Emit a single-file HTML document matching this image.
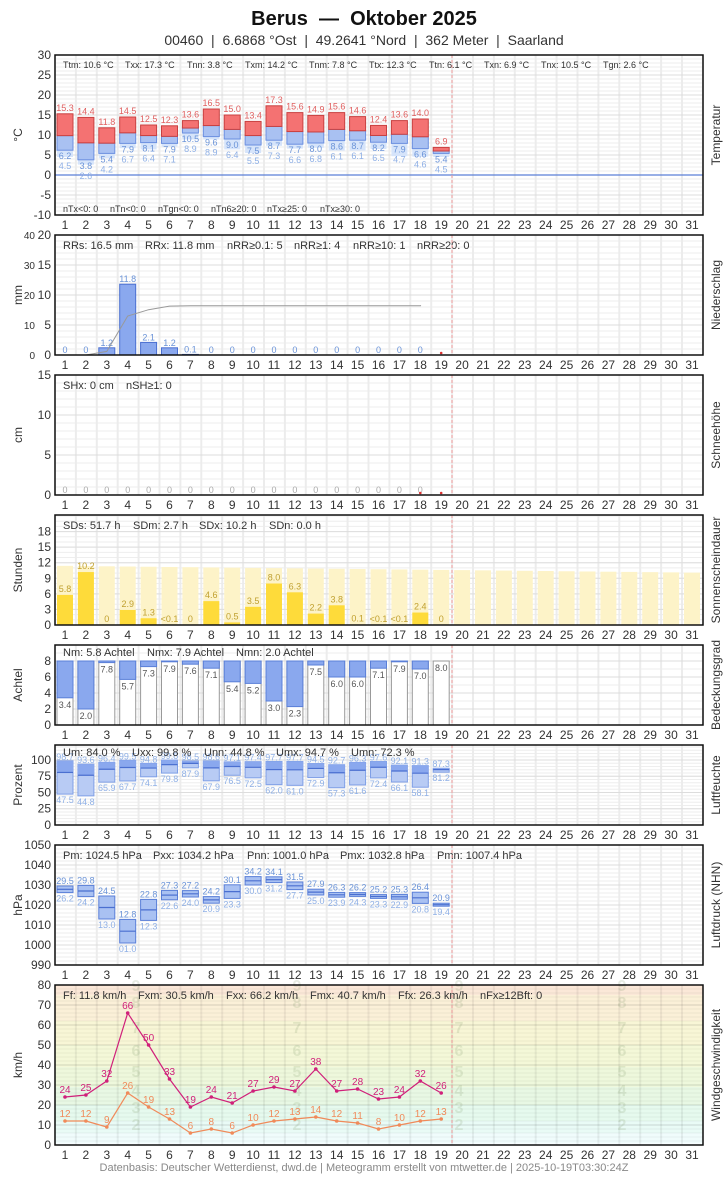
<!DOCTYPE html>
<html><head><meta charset="utf-8"><style>
body{margin:0;background:#fff;width:728px;height:1175px;overflow:hidden;font-family:"Liberation Sans",sans-serif}
text{white-space:pre}
</style></head><body>
<svg id="s" width="728" height="1175" xmlns="http://www.w3.org/2000/svg" font-family="Liberation Sans, sans-serif"></svg>
<script>
const S=document.getElementById('s');let h='';
const X0=55,X1=703,DW=20.9;const xc=d=>65+(d-1)*DW;
function t(x,y,s,o){o=o||{};h+=`<text x="${x}" y="${y}" font-size="${o.fs||11}" fill="${o.c||'#333'}" text-anchor="${o.a||'middle'}"${o.w?' font-weight="bold"':''}${o.tr?` transform="${o.tr}"`:''}>${s}</text>`;}
function r(x,y,w,hh,f,st){h+=`<rect x="${x}" y="${y}" width="${w}" height="${hh}" fill="${f}"${st?` stroke="${st}" stroke-width="1"`:''}/>`;}
function l(x1,y1,x2,y2,c,w,da){h+=`<line x1="${x1}" y1="${y1}" x2="${x2}" y2="${y2}" stroke="${c}" stroke-width="${w||1}"${da?` stroke-dasharray="${da}"`:''}/>`;}
t(364,25,'Berus  —  Oktober 2025',{fs:20,w:1,c:'#111'});
t(364,45,'00460  |  6.6868 °Ost  |  49.2641 °Nord  |  362 Meter  |  Saarland',{fs:14,c:'#333'});
function panel(y0,y1,vmin,vmax,ticks,lab,rlab,sub){
 const Y=v=>y1-(v-vmin)/(vmax-vmin)*(y1-y0);
 for(let v=vmin;v<=vmax;v+=sub) l(X0,Y(v),X1,Y(v),'#eee',1);
 for(let d=0;d<=31;d++){l(X0+d*DW,y0,X0+d*DW,y1,'#ececec',2);}
 ticks.forEach(v=>{l(X0,Y(v),X1,Y(v),'#ddd',1);t(51,Y(v)+4,v,{a:'end',fs:12});});
 t(22,(y0+y1)/2,lab,{fs:12,tr:`rotate(-90 22 ${(y0+y1)/2})`});
 t(720,(y0+y1)/2,rlab,{fs:12,tr:`rotate(-90 720 ${(y0+y1)/2})`});
 for(let d=1;d<=31;d++)t(xc(d),y1+14,d,{fs:12});
 return Y;
}
function frame(y0,y1){l(452,y0,452,y1,'#f4a0a0',1,'3,2');h+=`<rect x="${X0}" y="${y0}" width="${X1-X0}" height="${y1-y0}" fill="none" stroke="#111" stroke-width="1.5"/>`;}
let Y=panel(55,215,-10,30,[-10,-5,0,5,10,15,20,25,30],'°C','Temperatur',1);
l(X0,Y(0),X1,Y(0),'#5b7fd6',1.2);
const tx=[15.3,14.4,11.8,14.5,12.5,12.3,13.6,16.5,15.0,13.4,17.3,15.6,14.9,15.6,14.6,12.4,13.6,14.0,6.9],
tn=[6.2,3.8,5.4,7.9,8.1,7.9,10.5,9.6,9.0,7.5,8.7,7.7,8.0,8.6,8.7,8.2,7.9,6.6,5.4],
tg=[4.5,2.6,4.2,6.7,6.4,7.1,8.9,8.9,6.4,5.5,7.3,6.6,6.8,6.1,6.1,6.5,4.7,4.6,4.5];
tx.forEach((mx,i)=>{const x=xc(i+1)-8,mn=tn[i],g=tg[i],m=mn+(mx-mn)*0.4;
 r(x,Y(mn),16,Y(g)-Y(mn),'#d6e4fa');
 r(x,Y(m),16,Y(mn)-Y(m),'#a9c1f2','#6b8fe0');
 r(x,Y(mx),16,Y(m)-Y(mx),'#f47272','#c84040');
 t(xc(i+1),Y(mx)-3,mx.toFixed(1),{fs:9,c:'#e06060'});
 t(xc(i+1),Y(mn)+9,mn.toFixed(1),{fs:9,c:'#6a93d8'});
 t(xc(i+1),Y(mn)+19,g.toFixed(1),{fs:9,c:'#8fb0e6'});
});
[['Ttm: 10.6 °C',63],['Txx: 17.3 °C',125],['Tnn: 3.8 °C',187],['Txm: 14.2 °C',245],['Tnm: 7.8 °C',309],['Ttx: 12.3 °C',369],['Ttn: 6.1 °C',429],['Txn: 6.9 °C',484],['Tnx: 10.5 °C',541],['Tgn: 2.6 °C',603]].forEach(a=>t(a[1],68,a[0],{fs:9,a:'start'}));
[['nTx<0: 0',63],['nTn<0: 0',110],['nTgn<0: 0',158],['nTn6≥20: 0',211],['nTx≥25: 0',267],['nTx≥30: 0',320]].forEach(a=>t(a[1],212,a[0],{fs:9,a:'start'}));
frame(55,215);
Y=panel(235,355,0,20,[0,5,10,15,20],'mm','Niederschlag',1);
[0,10,20,30,40].forEach((v,i)=>t(35,355-i*30+4,v,{fs:10,a:'end'}));
const pr=[0,0,1.2,11.8,2.1,1.2,0.1,0,0,0,0,0,0,0,0,0,0,0];
let cum=0,pts=[];pr.forEach((p,i)=>{cum+=p;pts.push([xc(i+1)+(i==0?-10:0),355-cum*3]);});
pts.push([421,355-16.5*3]);
pr.forEach((p,i)=>{if(p>0)r(xc(i+1)-8,Y(p),16,Y(0)-Y(p),'#8aa8ee','#4a6fd0');t(xc(i+1),Y(p)-2,p==0?'0':p.toFixed(1),{fs:9,c:'#6a93d8'});});
h+=`<polyline points="${pts.map(p=>p.join(',')).join(' ')}" fill="none" stroke="#999" stroke-width="1"/>`;
h+=`<circle cx="${xc(19)}" cy="353" r="1.3" fill="#d33"/>`;
[['RRs: 16.5 mm',63],['RRx: 11.8 mm',145],['nRR≥0.1: 5',227],['nRR≥1: 4',294],['nRR≥10: 1',353],['nRR≥20: 0',417]].forEach(a=>t(a[1],249,a[0],{fs:11,a:'start'}));
frame(235,355);
Y=panel(375,495,0,15,[0,5,10,15],'cm','Schneehöhe',1);
for(let d=1;d<=18;d++)t(xc(d),493,'0',{fs:9,c:'#aaa'});
h+=`<circle cx="${xc(18)}" cy="493" r="1.3" fill="#d33"/><circle cx="${xc(19)}" cy="493" r="1.3" fill="#d33"/>`;
t(63,389,'SHx: 0 cm',{fs:11,a:'start'});t(126,389,'nSH≥1: 0',{fs:11,a:'start'});
frame(375,495);
Y=panel(515,625,0,21.2,[0,3,6,9,12,15,18],'Stunden','Sonnenscheindauer',1);
const sd=[5.8,10.2,0,2.9,1.3,0.02,0,4.6,0.5,3.5,8.0,6.3,2.2,3.8,0.1,0.02,0.02,2.4,0],sl=['5.8','10.2','0','2.9','1.3','&lt;0.1','0','4.6','0.5','3.5','8.0','6.3','2.2','3.8','0.1','&lt;0.1','&lt;0.1','2.4','0'];
for(let d=1;d<=31;d++){const p=11.4-(d-1)*1.3/30;r(xc(d)-8,Y(p),16,Y(0)-Y(p),'#fdf3c8');}
sd.forEach((s,i)=>{if(s>0.05)r(xc(i+1)-8,Y(s),16,Y(0)-Y(s),'#fedb3a');t(xc(i+1),Y(s)-3,sl[i],{fs:9,c:'#c0a030'});});
[['SDs: 51.7 h',63],['SDm: 2.7 h',133],['SDx: 10.2 h',199],['SDn: 0.0 h',269]].forEach(a=>t(a[1],529,a[0],{fs:11,a:'start'}));
frame(515,625);
Y=panel(645,725,0,10,[0,2,4,6,8],'Achtel','Bedeckungsgrad',1);
const cl=[3.4,2.0,7.8,5.7,7.3,7.9,7.6,7.1,5.4,5.2,3.0,2.3,7.5,6.0,6.0,7.1,7.9,7.0,8.0];
cl.forEach((c,i)=>{const x=xc(i+1)-8;r(x,Y(8),16,Y(0)-Y(8),'#fff','#999');r(x,Y(8),16,Y(c)-Y(8),'#8aa8ee','#5a7fd8');t(xc(i+1),Y(c)+10,c.toFixed(1),{fs:9,c:'#555'});});
[['Nm: 5.8 Achtel',63],['Nmx: 7.9 Achtel',147],['Nmn: 2.0 Achtel',236]].forEach(a=>t(a[1],656,a[0],{fs:11,a:'start'}));
frame(645,725);
Y=panel(745,825,0,123,[0,25,50,75,100],'Prozent','Luftfeuchte',5);
const ux=[98.7,93.6,96.4,99.5,94.8,99.8,98.5,98.6,97.1,97.4,97.7,97.7,94.5,92.7,96.3,97.6,92.1,91.3,87.3],
un=[47.5,44.8,65.9,67.7,74.1,79.8,87.9,67.9,76.5,72.5,62.0,61.0,72.9,57.3,61.6,72.4,66.1,58.1,81.2];
ux.forEach((mx,i)=>{const mn=un[i],m=mn+(mx-mn)*0.65,x=xc(i+1)-8;
 r(x,Y(mx),16,Y(mn)-Y(mx),'#b8cbf4','#7f9fe6');r(x,Y(mx),16,Y(m)-Y(mx),'#8aa8ee');l(x,Y(m),x+16,Y(m),'#4a6fd0',1.2);
 t(xc(i+1),Y(mx)-1,mx.toFixed(1),{fs:9,c:'#8fb0e6'});t(xc(i+1),Y(mn)+9,mn.toFixed(1),{fs:9,c:'#8fb0e6'});});
[['Um: 84.0 %',63],['Uxx: 99.8 %',132],['Unn: 44.8 %',204],['Umx: 94.7 %',276],['Umn: 72.3 %',351]].forEach(a=>t(a[1],756,a[0],{fs:11,a:'start'}));
frame(745,825);
Y=panel(845,965,990,1050,[990,1000,1010,1020,1030,1040,1050],'hPa','Luftdruck (NHN)',2);
const px=[29.5,29.8,24.5,12.8,22.8,27.3,27.2,24.2,30.1,34.2,34.1,31.5,27.9,26.3,26.2,25.2,25.3,26.4,20.9],
pn=[26.2,24.2,13.0,1.0,12.3,22.6,24.0,20.9,23.3,30.0,31.2,27.7,25.0,23.9,24.3,23.3,22.9,20.8,19.4];
px.forEach((a,i)=>{const b=pn[i],x=xc(i+1)-8,m=(a+b)/2;
 r(x,Y(1000+a),16,Y(1000+b)-Y(1000+a),'#a9c1f2','#5a7fd8');l(x,Y(1000+m),x+16,Y(1000+m),'#4a6fd0',1.2);
 t(xc(i+1),Y(1000+a)-2,a.toFixed(1),{fs:9,c:'#6a93d8'});t(xc(i+1),Y(1000+b)+9,(b<10?'0':'')+b.toFixed(1),{fs:9,c:'#8fb0e6'});});
[['Pm: 1024.5 hPa',63],['Pxx: 1034.2 hPa',153],['Pnn: 1001.0 hPa',247],['Pmx: 1032.8 hPa',340],['Pmn: 1007.4 hPa',437]].forEach(a=>t(a[1],859,a[0],{fs:11,a:'start'}));
frame(845,965);
const WY=v=>1145-v*2;
const bands=[[0,1,'#f7fdff'],[1,6,'#f0fcfc'],[6,12,'#e9fbf6'],[12,20,'#e6faee'],[20,29,'#e8f8e4'],[29,39,'#eef8dc'],[39,50,'#f4f8d8'],[50,62,'#f8f6d6'],[62,75,'#fbf0d8'],[75,80,'#fbe8d8']];
bands.forEach(b=>r(X0,WY(b[1]),X1-X0,WY(b[0])-WY(b[1]),b[2]));
Y=WY;
for(let v=0;v<=80;v+=2)l(X0,WY(v),X1,WY(v),'rgba(0,0,0,0.05)',1);
for(let d=0;d<=31;d++)l(X0+d*DW,985,X0+d*DW,1145,'rgba(0,0,0,0.06)',2);
[0,10,20,30,40,50,60,70,80].forEach(v=>{l(X0,WY(v),X1,WY(v),'rgba(0,0,0,0.1)',1);t(51,WY(v)+4,v,{a:'end',fs:12});});
t(22,1065,'km/h',{fs:12,tr:'rotate(-90 22 1065)'});t(720,1065,'Windgeschwindigkeit',{fs:12,tr:'rotate(-90 720 1065)'});
for(let d=1;d<=31;d++)t(xc(d),1159,d,{fs:12});
const bf=[[2,1130],[3,1113],[4,1096],[5,1077],[6,1056],[7,1033],[8,1008],[9,991]];
[136,297,459,622].forEach(x=>bf.forEach(b=>t(x,b[1],b[0],{fs:16,w:1,c:'rgba(120,150,100,0.18)'})));
function ser(v,c){h+=`<polyline points="${v.map((a,i)=>xc(i+1)+','+WY(a)).join(' ')}" fill="none" stroke="${c}" stroke-width="1.2"/>`;v.forEach((a,i)=>{h+=`<circle cx="${xc(i+1)}" cy="${WY(a)}" r="1.8" fill="${c}"/>`;t(xc(i+1),WY(a)-4,a,{fs:10,c:c});});}
ser([12,12,9,26,19,13,6,8,6,10,12,13,14,12,11,8,10,12,13],'#f08a5a');
ser([24,25,32,66,50,33,19,24,21,27,29,27,38,27,28,23,24,32,26],'#d0207a');
[['Ff: 11.8 km/h',63],['Fxm: 30.5 km/h',138],['Fxx: 66.2 km/h',226],['Fmx: 40.7 km/h',310],['Ffx: 26.3 km/h',398],['nFx≥12Bft: 0',480]].forEach(a=>t(a[1],999,a[0],{fs:11,a:'start'}));
frame(985,1145);
t(364,1171,'Datenbasis: Deutscher Wetterdienst, dwd.de | Meteogramm erstellt von mtwetter.de | 2025-10-19T03:30:24Z',{fs:11,c:'#888'});
S.innerHTML=h;
</script>
</body></html>
